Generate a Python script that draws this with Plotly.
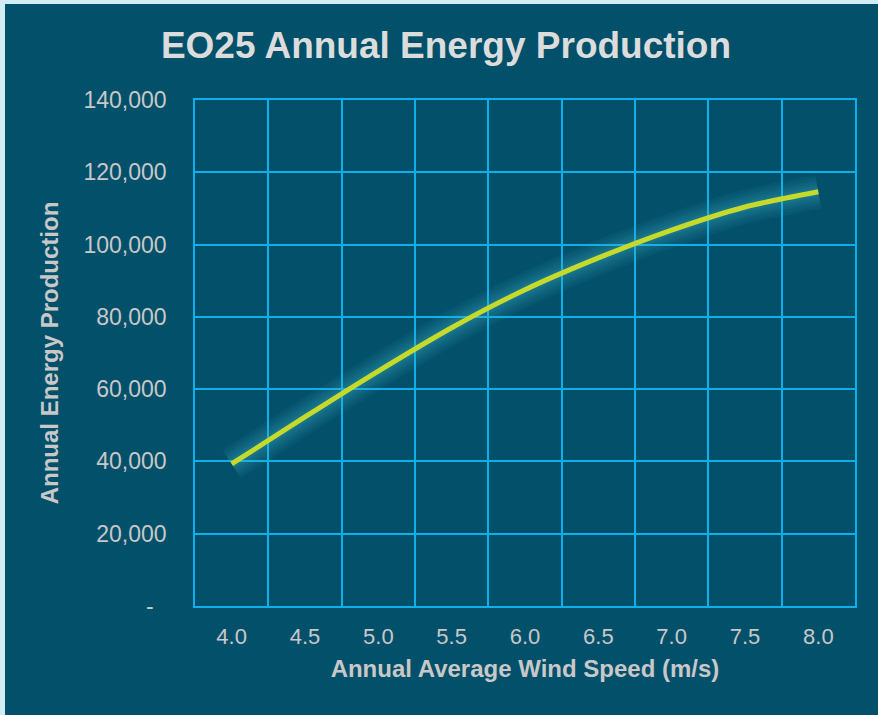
import plotly.graph_objects as go

# Wind speed categories (m/s) and annual energy production
wind_speed = ["4.0", "4.5", "5.0", "5.5", "6.0", "6.5", "7.0", "7.5", "8.0"]
energy = [39300, 52300, 65000, 77000, 87500, 96300, 104000, 110400, 114600]

# Y axis ticks (accounting style: zero shown as a dash)
y_ticks = [0, 20000, 40000, 60000, 80000, 100000, 120000, 140000]
y_tick_text = ["-\u00a0\u00a0", "20,000", "40,000", "60,000", "80,000",
               "100,000", "120,000", "140,000"]

W, H = 878, 715
ML, MR, MT, MB = 195, 23, 100, 109
BG = "#03506a"
GRID = "#0db0ea"
TXT = "#c8c8c8"
FONT = "Liberation Sans, Arial, sans-serif"

fig = go.Figure()

# soft glow behind the line
for w in [34, 28, 22, 17, 12, 9]:
    fig.add_trace(go.Scatter(
        x=wind_speed, y=energy, mode="lines",
        line=dict(color="#46b9cf", width=w, shape="spline", smoothing=0.7),
        opacity=0.065, hoverinfo="skip", showlegend=False))

fig.add_trace(go.Scatter(
    x=wind_speed, y=energy, mode="lines",
    line=dict(color="#c6da2b", width=5, shape="spline", smoothing=0.7),
    name="Annual Energy Production", showlegend=False))

# light frame strips along the top and left edges of the chart
pw, ph = W - ML - MR, H - MT - MB
def px(xp):
    return (xp - ML) / pw
def py(yp):
    return (H - MB - yp) / ph

frame = "#d2ecf5"
fig.add_shape(type="rect", xref="paper", yref="paper",
              x0=px(0), x1=px(5), y0=py(H), y1=py(0),
              fillcolor=frame, line_width=0, layer="above")
fig.add_shape(type="rect", xref="paper", yref="paper",
              x0=px(0), x1=px(W), y0=py(4), y1=py(0),
              fillcolor=frame, line_width=0, layer="above")

fig.update_layout(
    width=W, height=H,
    margin=dict(l=ML, r=MR, t=MT, b=MB, autoexpand=False),
    paper_bgcolor=BG, plot_bgcolor=BG,
    font=dict(family=FONT, color=TXT),
    title=dict(text="<b>EO25 Annual Energy Production</b>",
               x=446 / W, xanchor="center", y=1 - 45 / H, yanchor="middle",
               font=dict(size=37, color="#dcdcdc", family=FONT)),
    xaxis=dict(
        type="category", tickson="boundaries", range=[-0.5, 8.5],
        showgrid=True, gridcolor=GRID, gridwidth=1.75,
        showline=True, linecolor=GRID, linewidth=1.75, mirror=True,
        ticks="", ticklabelstandoff=10,
        tickfont=dict(size=22, color=TXT, family=FONT),
        title=dict(text="<b>Annual Average Wind Speed (m/s)</b>",
                   font=dict(size=24, color=TXT, family=FONT), standoff=12),
        zeroline=False),
    yaxis=dict(
        range=[0, 140000], tickvals=y_ticks, ticktext=y_tick_text,
        showgrid=True, gridcolor=GRID, gridwidth=1.75,
        showline=True, linecolor=GRID, linewidth=1.75, mirror=True,
        ticks="", ticklabelstandoff=22,
        tickfont=dict(size=23, color=TXT, family=FONT),
        title=dict(text="<b>Annual Energy Production</b>",
                   font=dict(size=24, color=TXT, family=FONT), standoff=18),
        zeroline=False),
)

fig.write_html("out.html")
